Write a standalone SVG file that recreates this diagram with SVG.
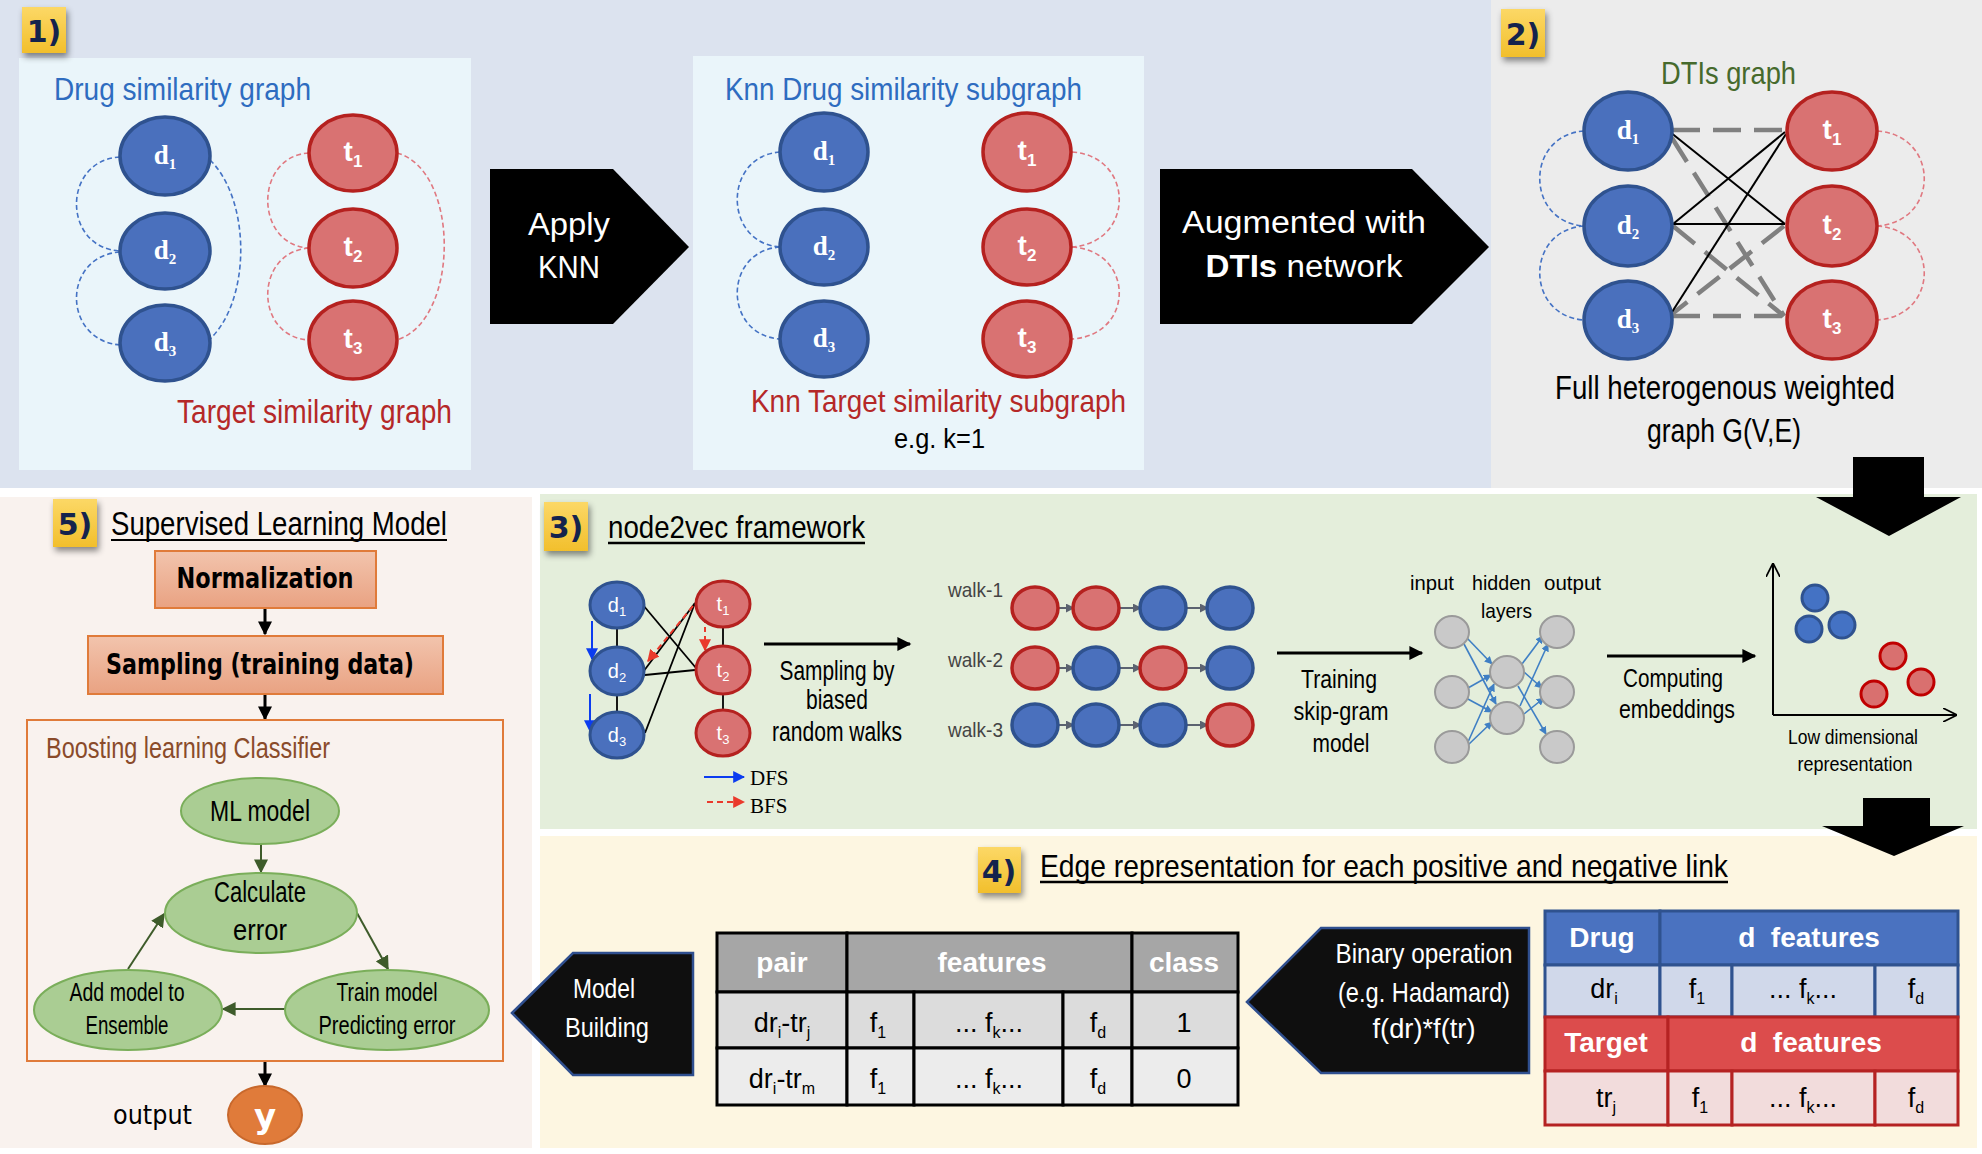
<svg xmlns="http://www.w3.org/2000/svg" width="1982" height="1154" viewBox="0 0 1982 1154">
<defs>
<style>
.n{font-family:"Liberation Sans Narrow","Liberation Sans",Arial,sans-serif}
.v{font-family:"DejaVu Sans",Verdana,sans-serif}
.s{font-family:"Liberation Serif","Times New Roman",serif}
.b{font-weight:bold}
.w{fill:#ffffff}
.k{fill:#000000}
.c{text-anchor:middle}
.dn{fill:#4a70bd;stroke:#2f528f;stroke-width:3.5}
.tn{fill:#d97272;stroke:#b5211f;stroke-width:3.5}
.dn2{fill:#4a70bd;stroke:#2f528f;stroke-width:3}
.tn2{fill:#d97272;stroke:#b5211f;stroke-width:3}
.gn{fill:#c9c9c9;stroke:#9a9a9a;stroke-width:2}
.da{fill:none;stroke:#4472c4;stroke-width:1.6;stroke-dasharray:5 3}
.ta{fill:none;stroke:#e07880;stroke-width:1.6;stroke-dasharray:5 3}
.gd{stroke:#808080;stroke-width:4.5;stroke-dasharray:28 13;fill:none}
.bl{stroke:#000;stroke-width:2;fill:none}
.badge{fill:url(#yg);filter:url(#sh)}
.bt{font-family:"DejaVu Sans",Verdana,sans-serif;font-weight:bold;font-size:30px;fill:#14234d;text-anchor:middle}
.ell{fill:#aacd93;stroke:#7aae5a;stroke-width:2}
.hdr{fill:#a6a6a6;stroke:#000;stroke-width:3}
</style>
<linearGradient id="yg" x1="0" y1="0" x2="0" y2="1"><stop offset="0" stop-color="#fcd866"/><stop offset="1" stop-color="#f2bf2c"/></linearGradient>
<linearGradient id="og" x1="0" y1="0" x2="0" y2="1"><stop offset="0" stop-color="#f2c4ad"/><stop offset="1" stop-color="#e9a282"/></linearGradient>
<filter id="sh" x="-30%" y="-30%" width="180%" height="180%"><feDropShadow dx="2" dy="4" stdDeviation="3" flood-color="#000" flood-opacity="0.45"/></filter>
<marker id="mK" viewBox="0 0 10 10" refX="9" refY="5" markerWidth="14" markerHeight="14" markerUnits="userSpaceOnUse" orient="auto"><path d="M0,0 L10,5 L0,10 z" fill="#000"/></marker>
<marker id="mK2" viewBox="0 0 10 10" refX="9" refY="5" markerWidth="17" markerHeight="14" markerUnits="userSpaceOnUse" orient="auto"><path d="M0,0 L10,5 L0,10 z" fill="#000"/></marker>
<marker id="mG" viewBox="0 0 10 10" refX="9" refY="5" markerWidth="14" markerHeight="14" markerUnits="userSpaceOnUse" orient="auto"><path d="M0,0 L10,5 L0,10 z" fill="#3e5b2a"/></marker>
<marker id="mB" viewBox="0 0 10 10" refX="9" refY="5" markerWidth="8" markerHeight="8" markerUnits="userSpaceOnUse" orient="auto"><path d="M0,0 L10,5 L0,10 z" fill="#3f7fc4"/></marker>
<marker id="mW" viewBox="0 0 10 10" refX="9" refY="5" markerWidth="9" markerHeight="9" markerUnits="userSpaceOnUse" orient="auto"><path d="M0,0 L10,5 L0,10 z" fill="#5b6270"/></marker>
<marker id="mD" viewBox="0 0 10 10" refX="9" refY="5" markerWidth="12" markerHeight="12" markerUnits="userSpaceOnUse" orient="auto"><path d="M0,0 L10,5 L0,10 z" fill="#0b3cf0"/></marker>
<marker id="mR" viewBox="0 0 10 10" refX="9" refY="5" markerWidth="12" markerHeight="12" markerUnits="userSpaceOnUse" orient="auto"><path d="M0,0 L10,5 L0,10 z" fill="#ea3a2c"/></marker>
<marker id="mA" viewBox="0 0 10 10" refX="10" refY="5" markerWidth="14" markerHeight="14" markerUnits="userSpaceOnUse" orient="auto"><path d="M0,0 L10,5 L0,10" fill="none" stroke="#000" stroke-width="1.2"/></marker>
</defs>

<!-- backgrounds -->
<rect x="0" y="0" width="1982" height="1154" fill="#ffffff"/>
<rect x="0" y="0" width="1491" height="488" fill="#dce3ef"/>
<rect x="1491" y="0" width="1486" height="488" fill="#ececec"/>
<rect x="19" y="58" width="452" height="412" fill="#eaf5fa"/>
<rect x="693" y="56" width="451" height="414" fill="#eaf5fa"/>
<rect x="0" y="497" width="532" height="651" fill="#f9f2ee"/>
<rect x="540" y="494" width="1437" height="335" fill="#e4eedb"/>
<rect x="540" y="836" width="1437" height="312" fill="#fdf6e1"/>

<!-- badges -->
<g id="badge1"><rect class="badge" x="22" y="7" width="44" height="46"/><text class="bt" x="44" y="42">1)</text></g>
<g id="badge2"><rect class="badge" x="1501" y="9" width="44" height="48"/><text class="bt" x="1523" y="45">2)</text></g>
<g id="badge3"><rect class="badge" x="544" y="502" width="44" height="49"/><text class="bt" x="566" y="538">3)</text></g>
<g id="badge4"><rect class="badge" x="978" y="847" width="43" height="46"/><text class="bt" x="999" y="882">4)</text></g>
<g id="badge5"><rect class="badge" x="53" y="499" width="44" height="48"/><text class="bt" x="75" y="535">5)</text></g>

<!-- connectors -->
<g id="connectors">
 <path class="da" d="M120,157 C62,160 62,248 120,251"/>
 <path class="da" d="M120,252 C62,256 62,340 120,345"/>
 <path class="da" d="M210,160 C251,200 251,300 210,339"/>
 <path class="ta" d="M309,153 C254,156 254,245 309,248"/>
 <path class="ta" d="M309,248 C254,252 254,337 309,340"/>
 <path class="ta" d="M397,153 C460,170 460,320 397,340"/>
 <path class="da" d="M780,152 C723,156 723,243 780,247"/>
 <path class="da" d="M780,247 C723,251 723,335 780,339"/>
 <path class="ta" d="M1072,152 C1135,156 1135,243 1072,247"/>
 <path class="ta" d="M1072,247 C1135,251 1135,335 1072,339"/>
 <path class="da" d="M1584,131 C1525,135 1525,222 1584,226"/>
 <path class="da" d="M1584,226 C1525,230 1525,316 1584,320"/>
 <path class="ta" d="M1877,131 C1940,135 1940,222 1877,226"/>
 <path class="ta" d="M1877,226 C1940,230 1940,316 1877,320"/>
 <line class="gd" x1="1672" y1="130" x2="1786" y2="130"/>
 <line class="gd" x1="1672" y1="316" x2="1786" y2="316"/>
 <line class="gd" x1="1672" y1="138" x2="1784" y2="316"/>
 <line class="gd" x1="1673" y1="226" x2="1784" y2="316"/>
 <line class="gd" x1="1784" y1="226" x2="1672" y2="314"/>
 <line class="bl" x1="1670" y1="132" x2="1785" y2="224"/>
 <line class="bl" x1="1673" y1="224" x2="1785" y2="132"/>
 <line class="bl" x1="1673" y1="224" x2="1785" y2="224"/>
 <line class="bl" x1="1672" y1="312" x2="1786" y2="134"/>
 <g stroke="#000" stroke-width="1.8" fill="none">
  <line x1="617" y1="628" x2="617" y2="648"/>
  <line x1="617" y1="694" x2="617" y2="712"/>
  <line x1="723" y1="627" x2="723" y2="647"/>
  <line x1="723" y1="693" x2="723" y2="710"/>
  <line x1="643" y1="605" x2="696" y2="668"/>
  <line x1="695" y1="603" x2="643" y2="672"/>
  <line x1="695" y1="603" x2="645" y2="733"/>
  <line x1="645" y1="675" x2="695" y2="670"/>
 </g>
 <line x1="693" y1="606" x2="648" y2="661" stroke="#ea3a2c" stroke-width="2" stroke-dasharray="6 4" marker-end="url(#mR)"/>
 <line x1="705" y1="618" x2="705" y2="650" stroke="#ea3a2c" stroke-width="2" stroke-dasharray="5 4" marker-end="url(#mR)"/>
 <line x1="592" y1="621" x2="592" y2="659" stroke="#0b3cf0" stroke-width="2" marker-end="url(#mD)"/>
 <line x1="590" y1="694" x2="590" y2="731" stroke="#0b3cf0" stroke-width="2" marker-end="url(#mD)"/>
 <line x1="704" y1="777" x2="744" y2="777" stroke="#0b3cf0" stroke-width="2" marker-end="url(#mD)"/>
 <line x1="707" y1="802" x2="744" y2="802" stroke="#ea3a2c" stroke-width="2" stroke-dasharray="6 4" marker-end="url(#mR)"/>
 <line x1="764" y1="644" x2="910" y2="644" stroke="#000" stroke-width="3" marker-end="url(#mK2)"/>
 <line x1="1277" y1="653" x2="1422" y2="653" stroke="#000" stroke-width="3" marker-end="url(#mK2)"/>
 <line x1="1607" y1="656" x2="1755" y2="656" stroke="#000" stroke-width="3" marker-end="url(#mK2)"/>
 <g stroke="#5b6270" stroke-width="2" marker-end="url(#mW)">
  <line x1="1058" y1="608" x2="1074" y2="608"/><line x1="1119" y1="608" x2="1141" y2="608"/><line x1="1186" y1="608" x2="1208" y2="608"/>
  <line x1="1058" y1="668" x2="1074" y2="668"/><line x1="1119" y1="668" x2="1141" y2="668"/><line x1="1186" y1="668" x2="1208" y2="668"/>
  <line x1="1058" y1="725" x2="1074" y2="725"/><line x1="1119" y1="725" x2="1141" y2="725"/><line x1="1186" y1="725" x2="1208" y2="725"/>
 </g>
 <g stroke="#3f7fc4" stroke-width="1.6" marker-end="url(#mB)">
  <line x1="1467" y1="638" x2="1492" y2="664"/>
  <line x1="1464" y1="644" x2="1496" y2="704"/>
  <line x1="1468" y1="688" x2="1491" y2="675"/>
  <line x1="1466" y1="698" x2="1492" y2="712"/>
  <line x1="1468" y1="742" x2="1494" y2="684"/>
  <line x1="1468" y1="745" x2="1492" y2="722"/>
  <line x1="1522" y1="664" x2="1543" y2="636"/>
  <line x1="1524" y1="672" x2="1542" y2="688"/>
  <line x1="1518" y1="686" x2="1546" y2="734"/>
  <line x1="1520" y1="706" x2="1548" y2="644"/>
  <line x1="1524" y1="714" x2="1544" y2="698"/>
 </g>
 <line x1="1773" y1="715" x2="1773" y2="563" stroke="#000" stroke-width="2" marker-end="url(#mA)"/>
 <line x1="1773" y1="715" x2="1957" y2="715" stroke="#000" stroke-width="2" marker-end="url(#mA)"/>
 <line x1="265" y1="608" x2="265" y2="634" stroke="#000" stroke-width="3" marker-end="url(#mK)"/>
 <line x1="265" y1="694" x2="265" y2="719" stroke="#000" stroke-width="3" marker-end="url(#mK)"/>
 <line x1="265" y1="1061" x2="265" y2="1086" stroke="#000" stroke-width="3" marker-end="url(#mK)"/>
 <line x1="261" y1="844" x2="261" y2="872" stroke="#3e5b2a" stroke-width="2" marker-end="url(#mG)"/>
 <line x1="357" y1="913" x2="388" y2="969" stroke="#3e5b2a" stroke-width="2" marker-end="url(#mG)"/>
 <line x1="285" y1="1009" x2="223" y2="1009" stroke="#3e5b2a" stroke-width="2" marker-end="url(#mG)"/>
 <line x1="128" y1="969" x2="164" y2="914" stroke="#3e5b2a" stroke-width="2" marker-end="url(#mG)"/>
</g>

<!-- Panel 1 -->
<g id="panel1-drug-title"><text class="n" x="54" y="100" font-size="32" fill="#2e6cc0" textLength="257" lengthAdjust="spacingAndGlyphs">Drug similarity graph</text></g>
<g id="p1-d1"><ellipse class="dn" cx="165" cy="156" rx="45" ry="39"/><text class="s b w c" x="165" y="164" font-size="27">d<tspan font-size="15" dy="5">1</tspan></text></g>
<g id="p1-d2"><ellipse class="dn" cx="165" cy="251" rx="45" ry="38"/><text class="s b w c" x="165" y="259" font-size="27">d<tspan font-size="15" dy="5">2</tspan></text></g>
<g id="p1-d3"><ellipse class="dn" cx="165" cy="343" rx="45" ry="38"/><text class="s b w c" x="165" y="351" font-size="27">d<tspan font-size="15" dy="5">3</tspan></text></g>
<g id="p1-t1"><ellipse class="tn" cx="353" cy="153" rx="44" ry="38"/><text class="n b w c" x="353" y="161" font-size="28">t<tspan font-size="17" dy="6">1</tspan></text></g>
<g id="p1-t2"><ellipse class="tn" cx="353" cy="248" rx="44" ry="39"/><text class="n b w c" x="353" y="256" font-size="28">t<tspan font-size="17" dy="6">2</tspan></text></g>
<g id="p1-t3"><ellipse class="tn" cx="353" cy="340" rx="44" ry="39" fill="#d96a74"/><text class="n b w c" x="353" y="348" font-size="28">t<tspan font-size="17" dy="6">3</tspan></text></g>
<g id="panel1-target-title"><text class="n" x="177" y="423" font-size="33" fill="#b52828" textLength="275" lengthAdjust="spacingAndGlyphs">Target similarity graph</text></g>

<g id="apply-knn"><polygon points="490,169 613,169 689,247 613,324 490,324" fill="#000"/>
<text class="n w c" x="569" y="235" font-size="31" textLength="82" lengthAdjust="spacingAndGlyphs">Apply</text>
<text class="n w c" x="569" y="278" font-size="31" textLength="62" lengthAdjust="spacingAndGlyphs">KNN</text></g>

<!-- Panel 2 knn -->
<g id="panel2-drug-title"><text class="n" x="725" y="100" font-size="32" fill="#2e6cc0" textLength="357" lengthAdjust="spacingAndGlyphs">Knn Drug similarity subgraph</text></g>
<g id="p2-d1"><ellipse class="dn" cx="824" cy="152" rx="44" ry="39"/><text class="s b w c" x="824" y="160" font-size="27">d<tspan font-size="15" dy="5">1</tspan></text></g>
<g id="p2-d2"><ellipse class="dn" cx="824" cy="247" rx="44" ry="38"/><text class="s b w c" x="824" y="255" font-size="27">d<tspan font-size="15" dy="5">2</tspan></text></g>
<g id="p2-d3"><ellipse class="dn" cx="824" cy="339" rx="44" ry="38"/><text class="s b w c" x="824" y="347" font-size="27">d<tspan font-size="15" dy="5">3</tspan></text></g>
<g id="p2-t1"><ellipse class="tn" cx="1027" cy="152" rx="44" ry="39"/><text class="n b w c" x="1027" y="160" font-size="28">t<tspan font-size="17" dy="6">1</tspan></text></g>
<g id="p2-t2"><ellipse class="tn" cx="1027" cy="247" rx="44" ry="38"/><text class="n b w c" x="1027" y="255" font-size="28">t<tspan font-size="17" dy="6">2</tspan></text></g>
<g id="p2-t3"><ellipse class="tn" cx="1027" cy="339" rx="44" ry="38" fill="#d96a74"/><text class="n b w c" x="1027" y="347" font-size="28">t<tspan font-size="17" dy="6">3</tspan></text></g>
<g id="panel2-target-title"><text class="n" x="751" y="412" font-size="32" fill="#b52828" textLength="375" lengthAdjust="spacingAndGlyphs">Knn Target similarity subgraph</text>
<text class="n k" x="894" y="448" font-size="27" textLength="91" lengthAdjust="spacingAndGlyphs">e.g. k=1</text></g>

<g id="augmented"><polygon points="1160,169 1412,169 1489,247 1412,324 1160,324" fill="#000"/>
<text class="n w c" x="1304" y="233" font-size="31" textLength="244" lengthAdjust="spacingAndGlyphs">Augmented with</text>
<text class="n w c" x="1304" y="277" font-size="31" textLength="197" lengthAdjust="spacingAndGlyphs"><tspan font-weight="bold">DTIs</tspan> network</text></g>

<!-- Panel 2) DTIs -->
<g id="dtis-title"><text class="n" x="1661" y="84" font-size="32" fill="#466a2c" textLength="135" lengthAdjust="spacingAndGlyphs">DTIs graph</text></g>
<g id="p3-d1"><ellipse class="dn" cx="1628" cy="131" rx="44" ry="39"/><text class="s b w c" x="1628" y="139" font-size="27">d<tspan font-size="15" dy="5">1</tspan></text></g>
<g id="p3-d2"><ellipse class="dn" cx="1628" cy="226" rx="44" ry="40"/><text class="s b w c" x="1628" y="234" font-size="27">d<tspan font-size="15" dy="5">2</tspan></text></g>
<g id="p3-d3"><ellipse class="dn" cx="1628" cy="320" rx="44" ry="39"/><text class="s b w c" x="1628" y="328" font-size="27">d<tspan font-size="15" dy="5">3</tspan></text></g>
<g id="p3-t1"><ellipse class="tn" cx="1832" cy="131" rx="45" ry="39"/><text class="n b w c" x="1832" y="139" font-size="28">t<tspan font-size="17" dy="6">1</tspan></text></g>
<g id="p3-t2"><ellipse class="tn" cx="1832" cy="226" rx="45" ry="40"/><text class="n b w c" x="1832" y="234" font-size="28">t<tspan font-size="17" dy="6">2</tspan></text></g>
<g id="p3-t3"><ellipse class="tn" cx="1832" cy="320" rx="45" ry="39" fill="#d96a74"/><text class="n b w c" x="1832" y="328" font-size="28">t<tspan font-size="17" dy="6">3</tspan></text></g>
<g id="full-graph-label"><text class="n k" x="1555" y="399" font-size="33" textLength="340" lengthAdjust="spacingAndGlyphs">Full heterogenous weighted</text>
<text class="n k" x="1647" y="442" font-size="33" textLength="154" lengthAdjust="spacingAndGlyphs">graph G(V,E)</text></g>

<g id="down-arrow-1"><polygon points="1853,457 1924,457 1924,497 1961,497 1889,536 1816,497 1853,497" fill="#000"/></g>
<g id="down-arrow-2"><polygon points="1863,798 1930,798 1930,826 1964,826 1894,856 1822,826 1863,826" fill="#000"/></g>

<!-- Panel 3 node2vec -->
<g id="node2vec-title"><text class="n k" x="608" y="538" font-size="32" textLength="257" lengthAdjust="spacingAndGlyphs">node2vec framework</text><line x1="608" y1="543" x2="865" y2="543" stroke="#000" stroke-width="2.5"/></g>
<g id="n2v-d1"><ellipse class="dn2" cx="617" cy="605" rx="27" ry="23"/><text class="n w c" x="617" y="612" font-size="20">d<tspan font-size="13" dy="4">1</tspan></text></g>
<g id="n2v-d2"><ellipse class="dn2" cx="617" cy="671" rx="27" ry="24"/><text class="n w c" x="617" y="678" font-size="20">d<tspan font-size="13" dy="4">2</tspan></text></g>
<g id="n2v-d3"><ellipse class="dn2" cx="617" cy="735" rx="27" ry="23"/><text class="n w c" x="617" y="742" font-size="20">d<tspan font-size="13" dy="4">3</tspan></text></g>
<g id="n2v-t1"><ellipse class="tn2" cx="723" cy="604" rx="27" ry="23"/><text class="n w c" x="723" y="611" font-size="20">t<tspan font-size="13" dy="4">1</tspan></text></g>
<g id="n2v-t2"><ellipse class="tn2" cx="723" cy="670" rx="27" ry="24"/><text class="n w c" x="723" y="677" font-size="20">t<tspan font-size="13" dy="4">2</tspan></text></g>
<g id="n2v-t3"><ellipse class="tn2" cx="723" cy="733" rx="27" ry="23"/><text class="n w c" x="723" y="740" font-size="20">t<tspan font-size="13" dy="4">3</tspan></text></g>
<g id="legend"><text class="s k" x="750" y="785" font-size="21">DFS</text><text class="s k" x="750" y="813" font-size="21">BFS</text></g>
<g id="sampling-label"><text class="n k c" x="837" y="680" font-size="27" textLength="115" lengthAdjust="spacingAndGlyphs">Sampling by</text>
<text class="n k c" x="837" y="709" font-size="27" textLength="62" lengthAdjust="spacingAndGlyphs">biased</text>
<text class="n k c" x="837" y="741" font-size="27" textLength="130" lengthAdjust="spacingAndGlyphs">random walks</text></g>
<g id="walks">
 <g fill="#444" font-size="21" class="n"><text x="948" y="597" textLength="55" lengthAdjust="spacingAndGlyphs">walk-1</text><text x="948" y="667" textLength="55" lengthAdjust="spacingAndGlyphs">walk-2</text><text x="948" y="737" textLength="55" lengthAdjust="spacingAndGlyphs">walk-3</text></g>
 <g>
 <ellipse class="tn" cx="1035" cy="608" rx="23" ry="21" stroke-width="4"/><ellipse class="tn" cx="1096" cy="608" rx="23" ry="21" stroke-width="4"/><ellipse class="dn" cx="1163" cy="608" rx="23" ry="21" stroke-width="4"/><ellipse class="dn" cx="1230" cy="608" rx="23" ry="21" stroke-width="4"/>
 <ellipse class="tn" cx="1035" cy="668" rx="23" ry="21" stroke-width="4"/><ellipse class="dn" cx="1096" cy="668" rx="23" ry="21" stroke-width="4"/><ellipse class="tn" cx="1163" cy="668" rx="23" ry="21" stroke-width="4"/><ellipse class="dn" cx="1230" cy="668" rx="23" ry="21" stroke-width="4"/>
 <ellipse class="dn" cx="1035" cy="725" rx="23" ry="21" stroke-width="4"/><ellipse class="dn" cx="1096" cy="725" rx="23" ry="21" stroke-width="4"/><ellipse class="dn" cx="1163" cy="725" rx="23" ry="21" stroke-width="4"/><ellipse class="tn" cx="1230" cy="725" rx="23" ry="21" stroke-width="4"/>
 </g>
</g>
<g id="training-label"><text class="n k c" x="1339" y="688" font-size="26" textLength="76" lengthAdjust="spacingAndGlyphs">Training</text>
<text class="n k c" x="1341" y="720" font-size="26" textLength="95" lengthAdjust="spacingAndGlyphs">skip-gram</text>
<text class="n k c" x="1341" y="752" font-size="26" textLength="57" lengthAdjust="spacingAndGlyphs">model</text></g>
<g id="skipgram-net">
 <g class="n k" font-size="21"><text x="1410" y="590" textLength="44" lengthAdjust="spacingAndGlyphs">input</text><text x="1472" y="590" textLength="59" lengthAdjust="spacingAndGlyphs">hidden</text><text x="1544" y="590" textLength="57" lengthAdjust="spacingAndGlyphs">output</text><text x="1481" y="618" textLength="51" lengthAdjust="spacingAndGlyphs">layers</text></g>
 <ellipse class="gn" cx="1452" cy="632" rx="17" ry="16"/><ellipse class="gn" cx="1452" cy="692" rx="17" ry="16"/><ellipse class="gn" cx="1452" cy="747" rx="17" ry="16"/>
 <ellipse class="gn" cx="1507" cy="672" rx="17" ry="16"/><ellipse class="gn" cx="1507" cy="718" rx="17" ry="16"/>
 <ellipse class="gn" cx="1557" cy="632" rx="17" ry="16"/><ellipse class="gn" cx="1557" cy="692" rx="17" ry="16"/><ellipse class="gn" cx="1557" cy="747" rx="17" ry="16"/>
</g>
<g id="computing-label"><text class="n k c" x="1673" y="687" font-size="26" textLength="100" lengthAdjust="spacingAndGlyphs">Computing</text>
<text class="n k c" x="1677" y="718" font-size="26" textLength="116" lengthAdjust="spacingAndGlyphs">embeddings</text></g>
<g id="embedding-plot">
 <circle cx="1815" cy="598" r="13" fill="#4472c4" stroke="#2f528f" stroke-width="3"/>
 <circle cx="1809" cy="629" r="13" fill="#4472c4" stroke="#2f528f" stroke-width="3"/>
 <circle cx="1842" cy="625" r="13" fill="#4472c4" stroke="#2f528f" stroke-width="3"/>
 <circle cx="1893" cy="656" r="13" fill="#d9706f" stroke="#c00000" stroke-width="3"/>
 <circle cx="1921" cy="682" r="13" fill="#d9706f" stroke="#c00000" stroke-width="3"/>
 <circle cx="1874" cy="694" r="13" fill="#d9706f" stroke="#c00000" stroke-width="3"/>
 <text class="n k c" x="1853" y="744" font-size="20" textLength="130" lengthAdjust="spacingAndGlyphs">Low dimensional</text>
 <text class="n k c" x="1855" y="771" font-size="20" textLength="115" lengthAdjust="spacingAndGlyphs">representation</text>
</g>

<!-- Panel 4 -->
<g id="edge-title"><text class="n k" x="1040" y="877" font-size="32" textLength="688" lengthAdjust="spacingAndGlyphs">Edge representation for each positive and negative link</text><line x1="1040" y1="882" x2="1728" y2="882" stroke="#000" stroke-width="2.5"/></g>
<g id="model-building"><polygon points="512,1013 573,953 693,953 693,1075 573,1075" fill="#0f0f0f" stroke="#2f4f8f" stroke-width="2.5"/>
<text class="n w c" x="604" y="998" font-size="28" textLength="62" lengthAdjust="spacingAndGlyphs">Model</text>
<text class="n w c" x="607" y="1037" font-size="28" textLength="84" lengthAdjust="spacingAndGlyphs">Building</text></g>
<g id="edge-table">
 <rect x="717" y="933" width="130" height="59" class="hdr"/><rect x="847" y="933" width="285" height="59" class="hdr"/><rect x="1132" y="933" width="106" height="59" class="hdr"/>
 <g stroke="#000" stroke-width="3" fill="#dcdcdc"><rect x="717" y="992" width="130" height="56"/><rect x="847" y="992" width="67" height="56"/><rect x="914" y="992" width="149" height="56"/><rect x="1063" y="992" width="69" height="56"/><rect x="1132" y="992" width="106" height="56"/></g>
 <g stroke="#000" stroke-width="3" fill="#ececec"><rect x="717" y="1048" width="130" height="57"/><rect x="847" y="1048" width="67" height="57"/><rect x="914" y="1048" width="149" height="57"/><rect x="1063" y="1048" width="69" height="57"/><rect x="1132" y="1048" width="106" height="57"/></g>
 <g class="n b w c" font-size="28"><text x="782" y="972">pair</text><text x="992" y="972">features</text><text x="1184" y="972">class</text></g>
 <g class="n k c" font-size="27">
  <text x="782" y="1032">dr<tspan font-size="16" dy="6">i</tspan><tspan dy="-6">-tr</tspan><tspan font-size="16" dy="6">j</tspan></text>
  <text x="878" y="1032">f<tspan font-size="16" dy="6">1</tspan></text>
  <text x="989" y="1032">... f<tspan font-size="16" dy="6">k</tspan><tspan dy="-6">...</tspan></text>
  <text x="1098" y="1032">f<tspan font-size="16" dy="6">d</tspan></text>
  <text x="1184" y="1032">1</text>
  <text x="782" y="1088">dr<tspan font-size="16" dy="6">i</tspan><tspan dy="-6">-tr</tspan><tspan font-size="16" dy="6">m</tspan></text>
  <text x="878" y="1088">f<tspan font-size="16" dy="6">1</tspan></text>
  <text x="989" y="1088">... f<tspan font-size="16" dy="6">k</tspan><tspan dy="-6">...</tspan></text>
  <text x="1098" y="1088">f<tspan font-size="16" dy="6">d</tspan></text>
  <text x="1184" y="1088">0</text>
 </g>
</g>
<g id="binary-op"><polygon points="1247,1002 1321,928 1529,928 1529,1073 1321,1073" fill="#0f0f0f" stroke="#2f4f8f" stroke-width="2.5"/>
<text class="n w c" x="1424" y="963" font-size="28" textLength="177" lengthAdjust="spacingAndGlyphs">Binary operation</text>
<text class="n w c" x="1424" y="1002" font-size="28" textLength="172" lengthAdjust="spacingAndGlyphs">(e.g. Hadamard)</text>
<text class="n w c" x="1424" y="1038" font-size="28" textLength="103" lengthAdjust="spacingAndGlyphs">f(dr)*f(tr)</text></g>
<g id="feature-tables">
 <g stroke="#2f528f" stroke-width="3"><rect x="1545" y="911" width="115" height="54" fill="#4a72c0"/><rect x="1660" y="911" width="298" height="54" fill="#4a72c0"/>
 <rect x="1545" y="965" width="115" height="52" fill="#d0d8ea"/><rect x="1660" y="965" width="72" height="52" fill="#d0d8ea"/><rect x="1732" y="965" width="143" height="52" fill="#d0d8ea"/><rect x="1875" y="965" width="83" height="52" fill="#d0d8ea"/></g>
 <g stroke="#b52222" stroke-width="3"><rect x="1545" y="1017" width="123" height="54" fill="#dc4c4c"/><rect x="1668" y="1017" width="290" height="54" fill="#dc4c4c"/>
 <rect x="1545" y="1071" width="123" height="54" fill="#f2dcdc"/><rect x="1668" y="1071" width="64" height="54" fill="#f2dcdc"/><rect x="1732" y="1071" width="143" height="54" fill="#f2dcdc"/><rect x="1875" y="1071" width="83" height="54" fill="#f2dcdc"/></g>
 <g class="n b w c" font-size="28"><text x="1602" y="947">Drug</text><text x="1809" y="947" xml:space="preserve">d  features</text><text x="1606" y="1052">Target</text><text x="1811" y="1052" xml:space="preserve">d  features</text></g>
 <g class="n k c" font-size="27">
  <text x="1604" y="998">dr<tspan font-size="16" dy="6">i</tspan></text>
  <text x="1697" y="998">f<tspan font-size="16" dy="6">1</tspan></text>
  <text x="1803" y="998">... f<tspan font-size="16" dy="6">k</tspan><tspan dy="-6">...</tspan></text>
  <text x="1916" y="998">f<tspan font-size="16" dy="6">d</tspan></text>
  <text x="1606" y="1107">tr<tspan font-size="16" dy="6">j</tspan></text>
  <text x="1700" y="1107">f<tspan font-size="16" dy="6">1</tspan></text>
  <text x="1803" y="1107">... f<tspan font-size="16" dy="6">k</tspan><tspan dy="-6">...</tspan></text>
  <text x="1916" y="1107">f<tspan font-size="16" dy="6">d</tspan></text>
 </g>
</g>

<!-- Panel 5 -->
<g id="supervised-title"><text class="n k" x="111" y="535" font-size="33" textLength="336" lengthAdjust="spacingAndGlyphs">Supervised Learning Model</text><line x1="111" y1="540" x2="447" y2="540" stroke="#000" stroke-width="2"/></g>
<g id="normalization"><rect x="155" y="551" width="221" height="57" fill="url(#og)" stroke="#e07b3a" stroke-width="2"/><text class="v b k c" x="265" y="588" font-size="29" textLength="177" lengthAdjust="spacingAndGlyphs">Normalization</text></g>
<g id="sampling"><rect x="88" y="636" width="355" height="58" fill="url(#og)" stroke="#e07b3a" stroke-width="2"/><text class="v b k c" x="260" y="674" font-size="29" textLength="308" lengthAdjust="spacingAndGlyphs">Sampling (training data)</text></g>
<g id="boosting"><rect x="27" y="720" width="476" height="341" fill="none" stroke="#e07b3a" stroke-width="2"/><text class="n" x="46" y="758" font-size="29" fill="#8a4b2a" textLength="284" lengthAdjust="spacingAndGlyphs">Boosting learning Classifier</text></g>
<g id="ml-model"><ellipse class="ell" cx="260" cy="811" rx="79" ry="33"/><text class="n k c" x="260" y="821" font-size="29" textLength="100" lengthAdjust="spacingAndGlyphs">ML model</text></g>
<g id="calc-error"><ellipse class="ell" cx="261" cy="913" rx="96" ry="40"/><text class="n k c" x="260" y="902" font-size="29" textLength="92" lengthAdjust="spacingAndGlyphs">Calculate</text><text class="n k c" x="260" y="940" font-size="29" textLength="54" lengthAdjust="spacingAndGlyphs">error</text></g>
<g id="train-model"><ellipse class="ell" cx="387" cy="1010" rx="102" ry="40"/><text class="n k c" x="387" y="1001" font-size="26" textLength="101" lengthAdjust="spacingAndGlyphs">Train model</text><text class="n k c" x="387" y="1034" font-size="26" textLength="137" lengthAdjust="spacingAndGlyphs">Predicting error</text></g>
<g id="add-model"><ellipse class="ell" cx="128" cy="1010" rx="94" ry="40"/><text class="n k c" x="127" y="1001" font-size="26" textLength="115" lengthAdjust="spacingAndGlyphs">Add model to</text><text class="n k c" x="127" y="1034" font-size="26" textLength="83" lengthAdjust="spacingAndGlyphs">Ensemble</text></g>
<g id="output"><text class="v k" x="113" y="1124" font-size="27" textLength="79" lengthAdjust="spacingAndGlyphs">output</text><ellipse cx="265" cy="1115" rx="37" ry="29" fill="#e07b3a" stroke="#c8682c" stroke-width="2"/><text class="v b w c" x="265" y="1128" font-size="34">y</text></g>
</svg>
